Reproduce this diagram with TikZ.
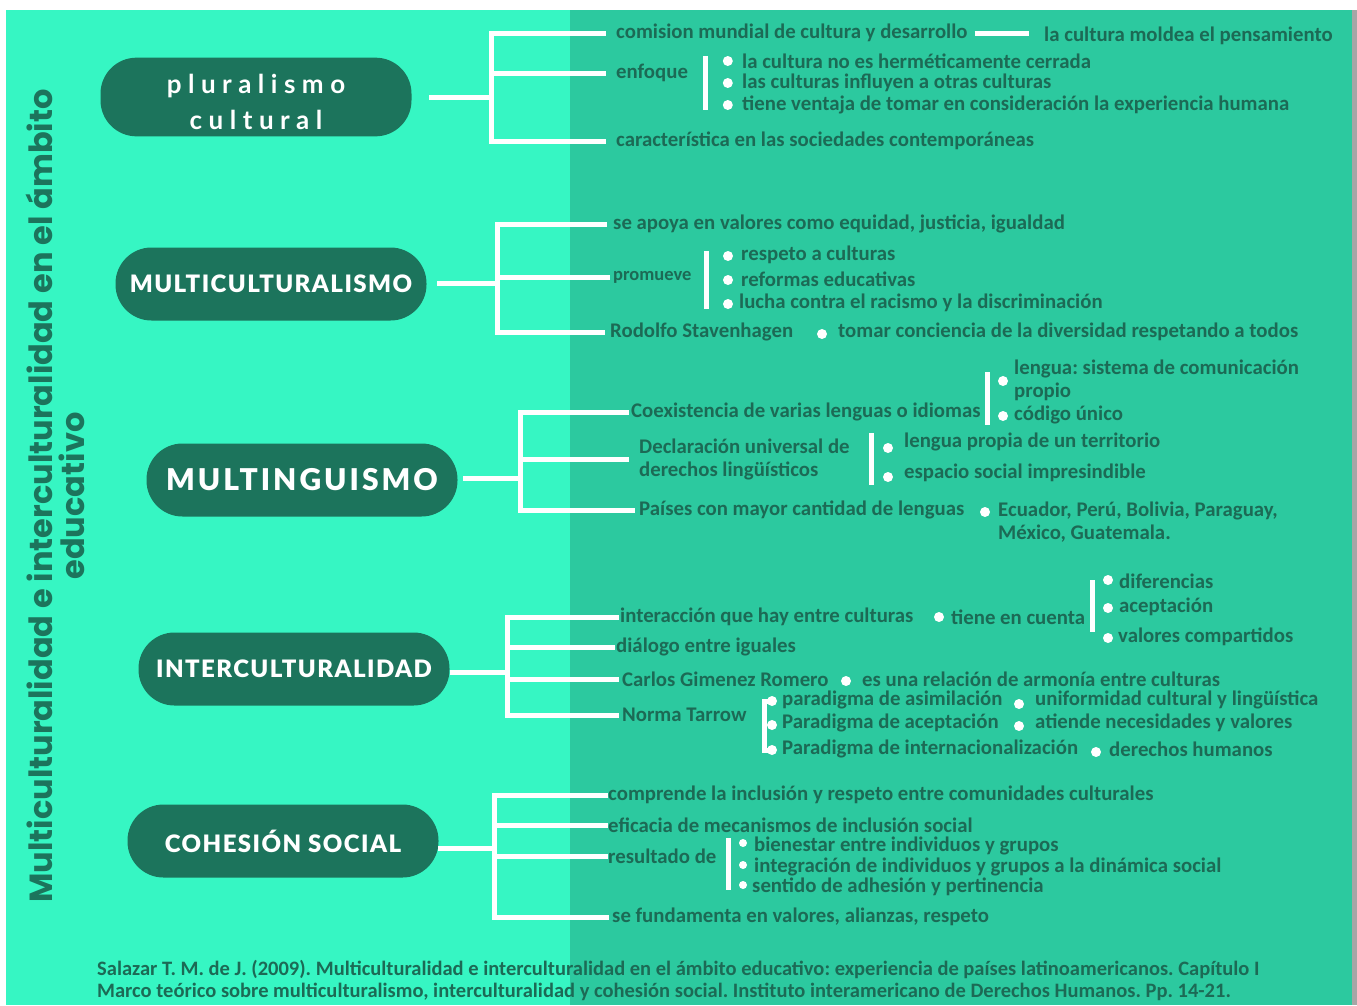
\documentclass[tikz,border=0pt]{standalone}
\usepackage{fontspec}
\setmainfont{Carlito}
\newfontfamily\pillfont[LetterSpace=6]{Lato Black}
\newfontfamily\bigfont[LetterSpace=10]{Lato Black}
\newfontfamily\plufont[LetterSpace=25]{Lato}
\newfontfamily\titlefont{Poppins}
\usetikzlibrary{positioning}
\definecolor{mintlight}{RGB}{54,246,195}
\definecolor{mintdark}{RGB}{44,201,159}
\definecolor{pillgreen}{RGB}{28,116,92}
\definecolor{itemgreen}{RGB}{28,106,85}
\tikzset{
	pill/.style={fill=pillgreen, rounded corners=36pt, minimum width=311pt, minimum height=73pt, text=white, font=\pillfont\fontsize{24}{28}\selectfont},
	wline/.style={draw=white, line width=5pt, line cap=rect},
	wbar/.style={draw=white, line width=5pt},
	item/.style={anchor=west, inner sep=1pt, text=itemgreen, align=left, font=\bfseries\fontsize{20.8}{23}\selectfont},
	dot/.style={circle, fill=white, minimum size=10pt, inner sep=0pt},
}
\frenchspacing

\begin{document}
\begin{tikzpicture}[x=1pt,y=-1pt]
	%%%%% START %%%%%
	\useasboundingbox (0,0) rectangle (1357,1005);
	\fill[white] (0,0) rectangle (1357,1005);
	\fill[mintlight] (6,10) rectangle (570,1005);
	\fill[mintdark] (570,10) rectangle (1352,1005);
	\fill[black!35] (1352,10) rectangle (1357,1005);

	\node[rotate=90, align=center, text=pillgreen, font=\titlefont\bfseries\fontsize{32}{32}\selectfont] (titulo) at (55,496) {Multiculturalidad e interculturalidad en el ámbito\\educativo};

	% pluralismo cultural
	\node[pill, font=\plufont\bfseries\fontsize{26}{36}\selectfont] (plu) at (256,97) {\raisebox{-7pt}[\height][\depth]{\begin{tabular}{@{}c@{}}pluralismo\\cultural\end{tabular}}};
	\coordinate (plusp) at (491,97);
	\draw[wline] ([xshift=20pt]plu.east) -- (plusp);
	\node[item] (plu1) at (615,33) {comision mundial de cultura y desarrollo};
	\node[item] (plu11) at (1043,36) {la cultura moldea el pensamiento};
	\node[item] (plu2) at (615,73) {enfoque};
	\node[item] (plu21) at (741,61) {la cultura no es herméticamente cerrada};
	\node[item] (plu22) at (741,83) {las culturas influyen a otras culturas};
	\node[item] (plu23) at (741,105) {tiene ventaja de tomar en consideración la experiencia humana};
	\node[item] (plu3) at (615,141) {característica en las sociedades contemporáneas};
	\draw[wline] (plusp |- plu1.west) -- (plusp |- plu3.west);
	\draw[wline] (plusp |- plu1.west) -- ([xshift=-12pt]plu1.west);
	\draw[wline] (plusp |- plu2.west) -- ([xshift=-12pt]plu2.west);
	\draw[wline] (plusp |- plu3.west) -- ([xshift=-12pt]plu3.west);
	\draw[wbar] ([xshift=6pt]plu1.east) -- ([xshift=-14pt]plu11.west |- plu1.east);
	\node[dot, left=8pt of plu21] (dplu21) {};
	\node[dot, left=8pt of plu22] (dplu22) {};
	\node[dot, left=8pt of plu23] (dplu23) {};
	\draw[wbar] ([xshift=-22pt]dplu21.north) -- ([xshift=-22pt]dplu23.south);

	% multiculturalismo
	\node[pill] (mul) at (271,284) {MULTICULTURALISMO};
	\coordinate (mulsp) at (497,283);
	\draw[wline] ([xshift=13pt]mul.east |- mulsp) -- (mulsp);
	\node[item] (mul1) at (612,224) {se apoya en valores como equidad, justicia, igualdad};
	\node[item, font=\bfseries\fontsize{18.5}{22}\selectfont] (mul2) at (612,277) {promueve};
	\node[item] (mul21) at (740,255) {respeto a culturas};
	\node[item] (mul22) at (740,279) {reformas educativas};
	\node[item] (mul23) at (738,303) {lucha contra el racismo y la discriminación};
	\node[item] (mul3) at (609,332) {Rodolfo Stavenhagen};
	\node[item] (mul31) at (837,332) {tomar conciencia de la diversidad respetando a todos};
	\draw[wline] (mulsp |- mul1.west) -- (mulsp |- mul3.west);
	\draw[wline] (mulsp |- mul1.west) -- ([xshift=-8pt]mul1.west);
	\draw[wline] (mulsp |- mul2.west) -- ([xshift=-5pt]mul2.west);
	\draw[wline] (mulsp |- mul3.west) -- ([xshift=-7pt]mul3.west);
	\node[dot] (dmul21) at (728,256) {};
	\node[dot] (dmul22) at (728,280) {};
	\node[dot] (dmul23) at (728,304) {};
	\node[dot] (dmul31) at (822,334) {};
	\draw[wbar] ([xshift=-22pt]dmul21.north) -- ([xshift=-22pt]dmul23.south);

	% multinguismo
	\node[pill, font=\bigfont\fontsize{30}{34}\selectfont] (lin) at (302,480) {MULTINGUISMO};
	\coordinate (linsp) at (520,478);
	\draw[wline] ([xshift=8pt]lin.east |- linsp) -- (linsp);
	\node[item] (lin1) at (630,412) {Coexistencia de varias lenguas o idiomas};
	\node[item] (lin11) at (1013,380) {lengua: sistema de comunicación\\propio};
	\node[item] (lin12) at (1013,415) {código único};
	\node[item] (lin2) at (638,459) {Declaración universal de\\derechos lingüísticos};
	\node[item] (lin21) at (903,442) {lengua propia de un territorio};
	\node[item] (lin22) at (903,473) {espacio social impresindible};
	\node[item] (lin3) at (638,510) {Países con mayor cantidad de lenguas};
	\node[item] (lin31) at (997,522) {Ecuador, Perú, Bolivia, Paraguay,\\México, Guatemala.};
	\draw[wline] (linsp |- lin1.west) -- (linsp |- lin3.west);
	\draw[wline] (linsp |- lin1.west) -- ([xshift=-4pt]lin1.west);
	\draw[wline] (linsp |- lin2.west) -- ([xshift=-12pt]lin2.west);
	\draw[wline] (linsp |- lin3.west) -- ([xshift=-6pt]lin3.west);
	\node[dot] (dlin11) at (1003,381) {};
	\node[dot] (dlin12) at (1003,416) {};
	\node[dot] (dlin21) at (888,448) {};
	\node[dot] (dlin22) at (888,477) {};
	\node[dot] (dlin31) at (985,512) {};
	\draw[wbar] (987,372) -- (987,425);
	\draw[wbar] (871,433) -- (871,485);

	% interculturalidad
	\node[pill] (int) at (294,669) {INTERCULTURALIDAD};
	\coordinate (intsp) at (507,672);
	\draw[wline] ([xshift=3pt]int.east |- intsp) -- (intsp);
	\node[item] (int1) at (619,617) {interacción que hay entre culturas};
	\node[item] (int11) at (950,617) {tiene en cuenta};
	\node[item] (int111) at (1118,581) {diferencias};
	\node[item] (int112) at (1118,607) {aceptación};
	\node[item] (int113) at (1117,637) {valores compartidos};
	\node[item] (int2) at (615,647) {diálogo entre iguales};
	\node[item] (int3) at (621,679) {Carlos Gimenez Romero};
	\node[item] (int31) at (861,679) {es una relación de armonía entre culturas};
	\node[item] (int4) at (621,715) {Norma Tarrow};
	\node[item] (int41) at (781,700) {paradigma de asimilación};
	\node[item] (int42) at (781,723) {Paradigma de aceptación};
	\node[item] (int43) at (781,749) {Paradigma de internacionalización};
	\node[item] (int411) at (1034,700) {uniformidad cultural y lingüística};
	\node[item] (int421) at (1034,723) {atiende necesidades y valores};
	\node[item] (int431) at (1108,749) {derechos humanos};
	\draw[wline] (intsp |- int1.west) -- (intsp |- int4.west);
	\draw[wline] (intsp |- int1.west) -- ([xshift=-3pt]int1.west);
	\draw[wline] (intsp |- int2.west) -- ([xshift=-3pt]int2.west);
	\draw[wline] (intsp |- int3.west) -- ([xshift=-5pt]int3.west);
	\draw[wline] (intsp |- int4.west) -- ([xshift=-5pt]int4.west);
	\node[dot] (dint11) at (939,617) {};
	\node[dot] (dint111) at (1108,580) {};
	\node[dot] (dint112) at (1108,608) {};
	\node[dot] (dint113) at (1108,638) {};
	\draw[wbar] (1092,580) -- (1092,632);
	\node[dot] (dint31) at (846,681) {};
	\node[dot] (dint41) at (772,701) {};
	\node[dot] (dint42) at (772,725) {};
	\node[dot] (dint43) at (772,750) {};
	\draw[wbar] (dint41.center) -- ++(-8,0) |- (dint43.center);
	\node[dot] (dint411) at (1019,704) {};
	\node[dot] (dint421) at (1019,726) {};
	\node[dot] (dint431) at (1096,752) {};

	% cohesion social
	\node[pill] (coh) at (283,841) {COHESIÓN SOCIAL};
	\coordinate (cohsp) at (494,848);
	\draw[wline] ([xshift=2pt]coh.east |- cohsp) -- (cohsp);
	\node[item] (coh1) at (607,795) {comprende la inclusión y respeto entre comunidades culturales};
	\node[item] (coh2) at (607,825) {eficacia de mecanismos de inclusión social};
	\node[item] (coh3) at (607,856) {resultado de};
	\node[item] (coh31) at (753,846) {bienestar entre individuos y grupos};
	\node[item] (coh32) at (753,867) {integración de individuos y grupos a la dinámica social};
	\node[item] (coh33) at (751,887) {sentido de adhesión y pertinencia};
	\node[item] (coh4) at (611,917) {se fundamenta en valores, alianzas, respeto};
	\draw[wline] (cohsp |- coh1.west) -- (cohsp |- coh4.west);
	\draw[wline] (cohsp |- coh1.west) -- ([xshift=-2pt]coh1.west);
	\draw[wline] (cohsp |- coh2.west) -- ([xshift=-2pt]coh2.west);
	\draw[wline] (cohsp |- coh3.west) -- ([xshift=-2pt]coh3.west);
	\draw[wline] (cohsp |- coh4.west) -- ([xshift=-5pt]coh4.west);
	\node[dot, minimum size=8pt] (dcoh31) at (743,843) {};
	\node[dot, minimum size=8pt] (dcoh32) at (743,865) {};
	\node[dot, minimum size=8pt] (dcoh33) at (743,885) {};
	\draw[wbar] (728,838) -- (728,890);

	\node[item, font=\bfseries\fontsize{20.5}{22}\selectfont] (cita) at (96,980) {Salazar T. M. de J. (2009). Multiculturalidad e interculturalidad en el ámbito educativo: experiencia de países latinoamericanos. Capítulo I\\Marco teórico sobre multiculturalismo, interculturalidad y cohesión social. Instituto interamericano de Derechos Humanos. Pp. 14-21.};
	%%%%% END %%%%%
\end{tikzpicture}
\end{document}
